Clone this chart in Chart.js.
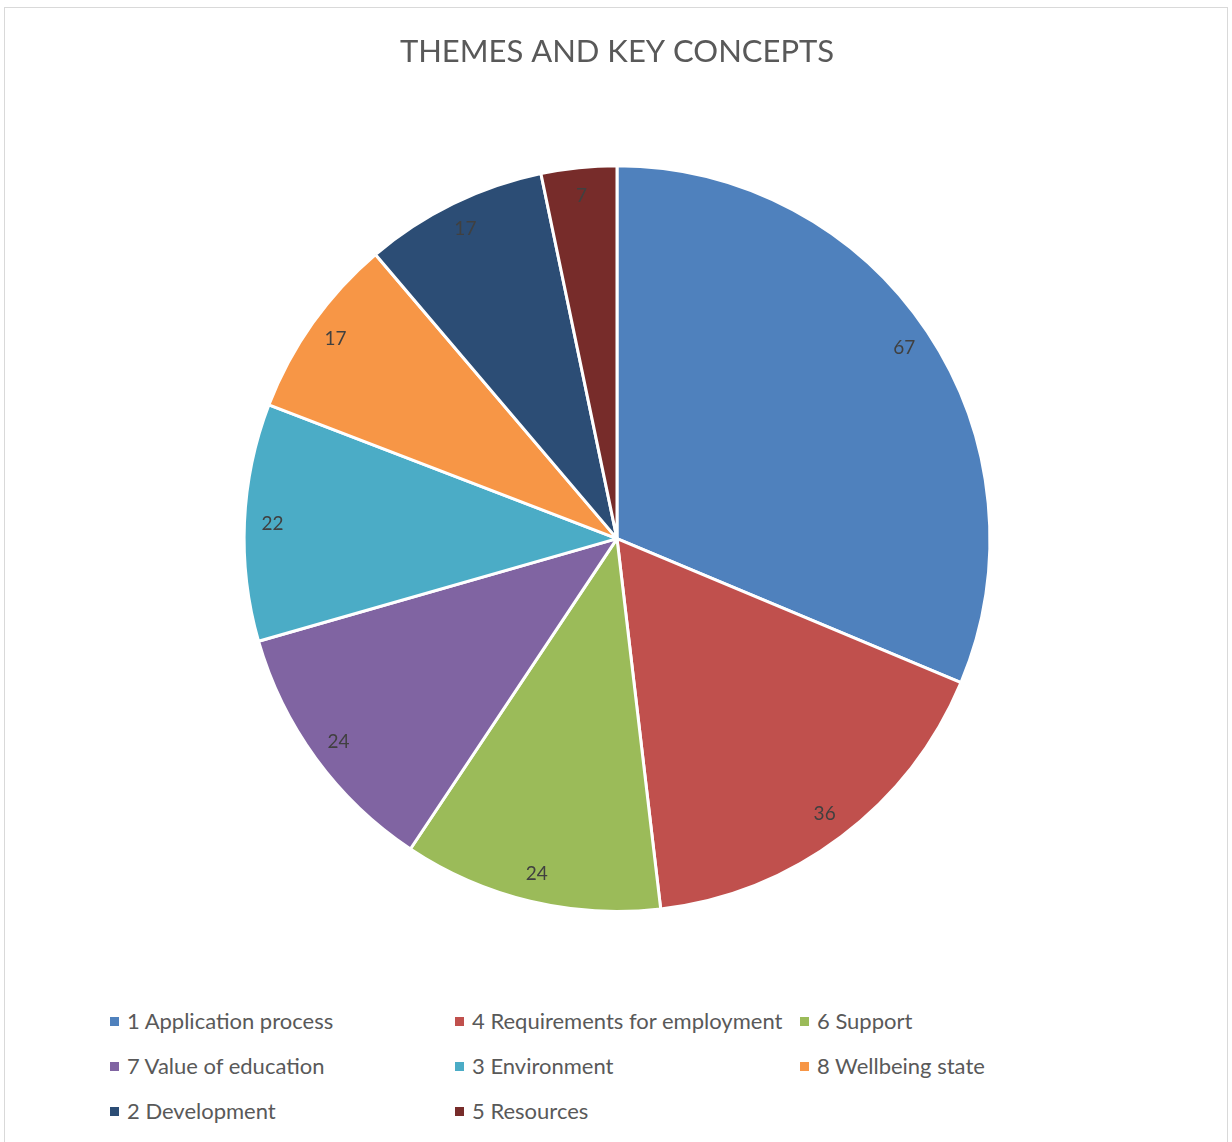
<!DOCTYPE html>
<html>
<head>
<meta charset="utf-8">
<script src="https://cdn.jsdelivr.net/npm/chart.js@4"></script>
<style>
  html, body { margin: 0; padding: 0; background: #fff; }
  body { width: 1232px; height: 1142px; position: relative; overflow: hidden; font-family: Lato, "Open Sans", sans-serif; }
  #frame { position: absolute; left: 4px; top: 7px; width: 1224px; height: 1150px; border: 1px solid #d9d9d9; box-sizing: border-box; }
  #wrap { position: absolute; left: 0; top: 0; width: 1232px; height: 980px; }
  #legend { position: absolute; left: 110px; top: 1006px; display: grid; grid-template-columns: 345px 345px 345px; row-gap: 0; }
  .item { height: 45px; line-height: 30px; font-size: 22px; color: #595959; white-space: nowrap; }
  .box { display: inline-block; width: 9px; height: 9px; margin-right: 8px; vertical-align: 3px; }
</style>
</head>
<body>
<div id="frame"></div>
<div id="wrap"><canvas id="pie-chart"></canvas></div>
<div id="legend"></div>
<script>
// 資料
const labels = [
  "1 Application process",
  "4 Requirements for employment",
  "6 Support",
  "7 Value of education",
  "3 Environment",
  "8 Wellbeing state",
  "2 Development",
  "5 Resources",
];
const counts = [67, 36, 24, 24, 22, 17, 17, 7];
const colors = ["#4F81BD", "#C0504D", "#9BBB59", "#8064A2", "#4BACC6", "#F79646", "#2C4D75", "#772C2A"];

// 在扇形裡面寫數字
const valueLabels = {
  id: "valueLabels",
  afterDatasetsDraw(chart) {
    const ctx = chart.ctx;
    const meta = chart.getDatasetMeta(0);
    ctx.save();
    ctx.font = "19px Lato, 'Open Sans', sans-serif";
    ctx.fillStyle = "#404040";
    ctx.textAlign = "center";
    ctx.textBaseline = "middle";
    meta.data.forEach((arc, i) => {
      const { x, y, startAngle, endAngle, outerRadius } = arc.getProps(
        ["x", "y", "startAngle", "endAngle", "outerRadius"],
        true
      );
      const mid = (startAngle + endAngle) / 2;
      const r = outerRadius * 0.925;
      ctx.fillText(String(counts[i]), x + Math.cos(mid) * r, y + Math.sin(mid) * r);
    });
    ctx.restore();
  },
};

const pieCanvas = document.getElementById("pie-chart");
const pieChart = new Chart(pieCanvas, {
  type: "pie",
  data: {
    labels: labels,
    datasets: [
      {
        data: counts,
        backgroundColor: colors,
        borderColor: "#ffffff",
        borderWidth: 3,
        hoverOffset: 0,
      },
    ],
  },
  options: {
    responsive: true,
    maintainAspectRatio: false,
    animation: false,
    layout: { padding: { left: 2, right: 0, top: 0, bottom: 67 } },
    plugins: {
      legend: { display: false },
      tooltip: { enabled: false },
      title: {
        display: true,
        text: "THEMES AND KEY CONCEPTS",
        color: "#595959",
        font: { family: "Lato, 'Open Sans', sans-serif", size: 31, weight: "normal" },
        padding: { top: 33, bottom: 94 },
      },
    },
  },
  plugins: [valueLabels],
});

// 圖例
const legendBox = document.getElementById("legend");
legendBox.innerHTML = labels
  .map((name, i) => `<div class="item"><span class="box" style="background:${colors[i]}"></span>${name}</div>`)
  .join("");
</script>
</body>
</html>
